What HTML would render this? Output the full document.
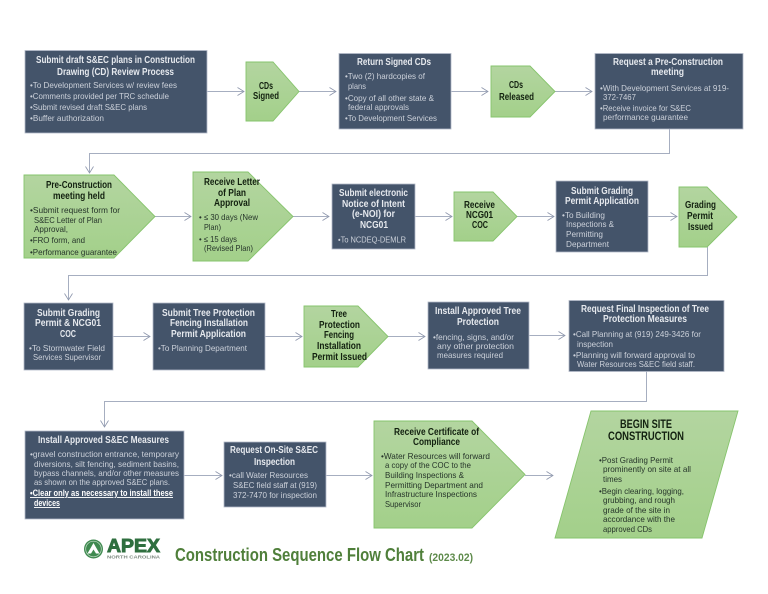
<!DOCTYPE html>
<html><head><meta charset="utf-8"><title>Construction Sequence Flow Chart</title>
<style>
html,body{margin:0;padding:0;background:#fff}
svg{display:block;filter:blur(.35px)}
text{font-family:"Liberation Sans",sans-serif}
.d{fill:#44546a;stroke:#b3bac8;stroke-width:.8}
.g{fill:url(#gr);stroke:#86c46c;stroke-width:.9}
.c{fill:none;stroke:#a6aec0;stroke-width:1}
.a{fill:none;stroke:#8c95ab;stroke-width:.8}
.h{font-weight:bold;font-size:10.2px;fill:#e6e9ee}
.b{font-size:8.3px;fill:#ccd1da}
.k{font-weight:bold;font-size:10.2px;fill:#12200f}
.n{font-size:8.3px;fill:#26352a}
.u{font-weight:bold;font-size:9.2px;fill:#fff;text-decoration:underline}
</style></head><body>
<svg width="768" height="594" viewBox="0 0 768 594" xmlns="http://www.w3.org/2000/svg">
<defs><linearGradient id="gr" x1="0" y1="0" x2="0" y2="1"><stop offset="0" stop-color="#b3d5a0"/><stop offset="1" stop-color="#a3d08a"/></linearGradient></defs>
<rect width="768" height="594" fill="#fff"/>

<!-- connectors -->
<path class="c" d="M207.500 91.500H244M299 91.500H336M451.500 91.500H488M555 91.500H592"/>
<path class="c" d="M669.500 129V153.500H89.500V173"/>
<path class="c" d="M155 216.500H191M293 216.500H329M415.500 216.500H452M517 216.500H554M648 216.500H677"/>
<path class="c" d="M707.500 247V275.500H68.500V300"/>
<path class="c" d="M113.500 336.500H150M265.500 336.500H302M388 336.500H425M529.500 335.500H565"/>
<path class="c" d="M646.500 371V401.500H104.500V427"/>
<path class="c" d="M184.500 475.500H222M326.500 475.500H372M525 475.500H553"/>
<path class="a" d="M237.500 87.500L244 91.500L237.500 95.500M329.500 87.500L336 91.500L329.500 95.500M481.500 87.500L488 91.500L481.500 95.500M585.500 87.500L592 91.500L585.500 95.500"/>
<path class="a" d="M85.500 166.500L89.500 173L93.500 166.500M64.500 293.500L68.500 300L72.500 293.500M100.500 420.500L104.500 427L108.500 420.500"/>
<path class="a" d="M184.500 212.500L191 216.500L184.500 220.500M322.500 212.500L329 216.500L322.500 220.500M445.500 212.500L452 216.500L445.500 220.500M547.500 212.500L554 216.500L547.500 220.500M670.500 212.500L677 216.500L670.500 220.500"/>
<path class="a" d="M143.500 332.500L150 336.500L143.500 340.500M295.500 332.500L302 336.500L295.500 340.500M418.500 332.500L425 336.500L418.500 340.500M558.500 331.500L565 335.500L558.500 339.500"/>
<path class="a" d="M215.500 471.500L222 475.500L215.500 479.500M365.500 471.500L372 475.500L365.500 479.500M546.500 471.500L553 475.500L546.500 479.500"/>

<!-- dark boxes -->
<rect class="d" x="25" y="50.500" width="182" height="82.500"/>
<rect class="d" x="339" y="53.500" width="112" height="75.500"/>
<rect class="d" x="595" y="53.500" width="148" height="75.500"/>
<rect class="d" x="332" y="184" width="83" height="65"/>
<rect class="d" x="556" y="181" width="92" height="71"/>
<rect class="d" x="24" y="303" width="89" height="67"/>
<rect class="d" x="153" y="303" width="112" height="67"/>
<rect class="d" x="428" y="302" width="101" height="67"/>
<rect class="d" x="569" y="300.500" width="155" height="71"/>
<rect class="d" x="25" y="431" width="159" height="88"/>
<rect class="d" x="224" y="442" width="102" height="65"/>

<!-- green shapes -->
<polygon class="g" points="246,62 273,62 299,91.500 273,121 246,121"/>
<polygon class="g" points="491,66 530,66 555,91.500 530,117 491,117"/>
<polygon class="g" points="24,175 114,175 155,216.500 114,258 24,258"/>
<polygon class="g" points="193,172 248,172 293,216.500 248,261 193,261"/>
<polygon class="g" points="454,192 493,192 517,216.500 493,241 454,241"/>
<polygon class="g" points="679,187 707,187 737,217 707,247 679,247"/>
<polygon class="g" points="304,306 358,306 388,336.500 358,367 304,367"/>
<polygon class="g" points="374,421 472,421 525,474.500 472,528 374,528"/>
<polygon class="g" points="591,411 738,411 702,538 555,538"/>

<!-- Box 1 -->
<text class="h" x="36" y="63" textLength="159" lengthAdjust="spacingAndGlyphs">Submit draft S&amp;EC plans in Construction</text>
<text class="h" x="57" y="75" textLength="117" lengthAdjust="spacingAndGlyphs">Drawing (CD) Review Process</text>
<text class="b" x="30" y="88" textLength="147" lengthAdjust="spacingAndGlyphs">•To Development Services w/ review fees</text>
<text class="b" x="30" y="99" textLength="139" lengthAdjust="spacingAndGlyphs">•Comments provided per TRC schedule</text>
<text class="b" x="30" y="110" textLength="117" lengthAdjust="spacingAndGlyphs">•Submit revised draft S&amp;EC plans</text>
<text class="b" x="30" y="121" textLength="74" lengthAdjust="spacingAndGlyphs">•Buffer authorization</text>

<text class="k" x="259" y="89" textLength="14" lengthAdjust="spacingAndGlyphs">CDs</text>
<text class="k" x="253" y="99" textLength="26" lengthAdjust="spacingAndGlyphs">Signed</text>

<!-- Box 2 -->
<text class="h" x="357" y="65" textLength="74" lengthAdjust="spacingAndGlyphs">Return Signed CDs</text>
<text class="b" x="345" y="79" textLength="80" lengthAdjust="spacingAndGlyphs">•Two (2) hardcopies of</text>
<text class="b" x="348" y="89" textLength="18" lengthAdjust="spacingAndGlyphs">plans</text>
<text class="b" x="345" y="101" textLength="89" lengthAdjust="spacingAndGlyphs">•Copy of all other state &amp;</text>
<text class="b" x="348" y="110" textLength="61" lengthAdjust="spacingAndGlyphs">federal approvals</text>
<text class="b" x="345" y="121" textLength="92" lengthAdjust="spacingAndGlyphs">•To Development Services</text>

<text class="k" x="509" y="88" textLength="14" lengthAdjust="spacingAndGlyphs">CDs</text>
<text class="k" x="499" y="100" textLength="35" lengthAdjust="spacingAndGlyphs">Released</text>

<!-- Box 3 -->
<text class="h" x="613" y="65" textLength="110" lengthAdjust="spacingAndGlyphs">Request a Pre-Construction</text>
<text class="h" x="651" y="75" textLength="33" lengthAdjust="spacingAndGlyphs">meeting</text>
<text class="b" x="600" y="91" textLength="129" lengthAdjust="spacingAndGlyphs">•With Development Services at 919-</text>
<text class="b" x="603" y="100" textLength="33" lengthAdjust="spacingAndGlyphs">372-7467</text>
<text class="b" x="600" y="111" textLength="91" lengthAdjust="spacingAndGlyphs">•Receive invoice for S&amp;EC</text>
<text class="b" x="603" y="120" textLength="85" lengthAdjust="spacingAndGlyphs">performance guarantee</text>

<!-- Pre-con -->
<text class="k" x="46" y="188" textLength="66" lengthAdjust="spacingAndGlyphs">Pre-Construction</text>
<text class="k" x="53" y="199" textLength="52" lengthAdjust="spacingAndGlyphs">meeting held</text>
<text class="n" x="30" y="213" textLength="90" lengthAdjust="spacingAndGlyphs">•Submit request form for</text>
<text class="n" x="34" y="223" textLength="68" lengthAdjust="spacingAndGlyphs">S&amp;EC Letter of Plan</text>
<text class="n" x="34" y="232" textLength="34" lengthAdjust="spacingAndGlyphs">Approval,</text>
<text class="n" x="30" y="243" textLength="55" lengthAdjust="spacingAndGlyphs">•FRO form, and</text>
<text class="n" x="30" y="255" textLength="87" lengthAdjust="spacingAndGlyphs">•Performance guarantee</text>

<!-- Letter -->
<text class="k" x="204" y="185" textLength="56" lengthAdjust="spacingAndGlyphs">Receive Letter</text>
<text class="k" x="218" y="196" textLength="28" lengthAdjust="spacingAndGlyphs">of Plan</text>
<text class="k" x="214" y="206" textLength="36" lengthAdjust="spacingAndGlyphs">Approval</text>
<text class="n" x="199" y="220" textLength="59" lengthAdjust="spacingAndGlyphs">• ≤ 30 days (New</text>
<text class="n" x="204" y="230" textLength="17" lengthAdjust="spacingAndGlyphs">Plan)</text>
<text class="n" x="199" y="242" textLength="38" lengthAdjust="spacingAndGlyphs">• ≤ 15 days</text>
<text class="n" x="204" y="251" textLength="49" lengthAdjust="spacingAndGlyphs">(Revised Plan)</text>

<!-- eNOI -->
<text class="h" x="339" y="196" textLength="69" lengthAdjust="spacingAndGlyphs">Submit electronic</text>
<text class="h" x="342" y="207" textLength="63" lengthAdjust="spacingAndGlyphs">Notice of Intent</text>
<text class="h" x="352" y="217" textLength="43" lengthAdjust="spacingAndGlyphs">(e-NOI) for</text>
<text class="h" x="360" y="228" textLength="28" lengthAdjust="spacingAndGlyphs">NCG01</text>
<text class="b" x="338" y="242.500" textLength="68" lengthAdjust="spacingAndGlyphs">•To NCDEQ-DEMLR</text>

<text class="k" x="464" y="208" textLength="31" lengthAdjust="spacingAndGlyphs">Receive</text>
<text class="k" x="466" y="218" textLength="27" lengthAdjust="spacingAndGlyphs">NCG01</text>
<text class="k" x="472" y="228" textLength="16" lengthAdjust="spacingAndGlyphs">COC</text>

<!-- Grading app -->
<text class="h" x="571" y="194" textLength="62" lengthAdjust="spacingAndGlyphs">Submit Grading</text>
<text class="h" x="565" y="204" textLength="74" lengthAdjust="spacingAndGlyphs">Permit Application</text>
<text class="b" x="562" y="218" textLength="43" lengthAdjust="spacingAndGlyphs">•To Building</text>
<text class="b" x="566" y="227" textLength="48" lengthAdjust="spacingAndGlyphs">Inspections &amp;</text>
<text class="b" x="566" y="237" textLength="37" lengthAdjust="spacingAndGlyphs">Permitting</text>
<text class="b" x="566" y="247" textLength="43" lengthAdjust="spacingAndGlyphs">Department</text>

<text class="k" x="685" y="208" textLength="31" lengthAdjust="spacingAndGlyphs">Grading</text>
<text class="k" x="687" y="219" textLength="26" lengthAdjust="spacingAndGlyphs">Permit</text>
<text class="k" x="688" y="230" textLength="25" lengthAdjust="spacingAndGlyphs">Issued</text>

<!-- Row 3 -->
<text class="h" x="37" y="316" textLength="63" lengthAdjust="spacingAndGlyphs">Submit Grading</text>
<text class="h" x="35" y="326" textLength="66" lengthAdjust="spacingAndGlyphs">Permit &amp; NCG01</text>
<text class="h" x="60" y="337" textLength="16" lengthAdjust="spacingAndGlyphs">COC</text>
<text class="b" x="29" y="351" textLength="76" lengthAdjust="spacingAndGlyphs">•To Stormwater Field</text>
<text class="b" x="33" y="360" textLength="68" lengthAdjust="spacingAndGlyphs">Services Supervisor</text>

<text class="h" x="162" y="316" textLength="93" lengthAdjust="spacingAndGlyphs">Submit Tree Protection</text>
<text class="h" x="170" y="326" textLength="78" lengthAdjust="spacingAndGlyphs">Fencing Installation</text>
<text class="h" x="171" y="337" textLength="75" lengthAdjust="spacingAndGlyphs">Permit Application</text>
<text class="b" x="158" y="351" textLength="89" lengthAdjust="spacingAndGlyphs">•To Planning Department</text>

<text class="k" x="331" y="317" textLength="16" lengthAdjust="spacingAndGlyphs">Tree</text>
<text class="k" x="319" y="328" textLength="41" lengthAdjust="spacingAndGlyphs">Protection</text>
<text class="k" x="324" y="338" textLength="30" lengthAdjust="spacingAndGlyphs">Fencing</text>
<text class="k" x="317" y="349" textLength="44" lengthAdjust="spacingAndGlyphs">Installation</text>
<text class="k" x="312" y="360" textLength="55" lengthAdjust="spacingAndGlyphs">Permit Issued</text>

<text class="h" x="435" y="314" textLength="86" lengthAdjust="spacingAndGlyphs">Install Approved Tree</text>
<text class="h" x="457" y="325" textLength="42" lengthAdjust="spacingAndGlyphs">Protection</text>
<text class="b" x="433" y="340" textLength="81" lengthAdjust="spacingAndGlyphs">•fencing, signs, and/or</text>
<text class="b" x="437" y="349" textLength="77" lengthAdjust="spacingAndGlyphs">any other protection</text>
<text class="b" x="437" y="358" textLength="66" lengthAdjust="spacingAndGlyphs">measures required</text>

<text class="h" x="581" y="312" textLength="128" lengthAdjust="spacingAndGlyphs">Request Final Inspection of Tree</text>
<text class="h" x="603" y="322" textLength="84" lengthAdjust="spacingAndGlyphs">Protection Measures</text>
<text class="b" x="573" y="337" textLength="128" lengthAdjust="spacingAndGlyphs">•Call Planning at (919) 249-3426 for</text>
<text class="b" x="577" y="347" textLength="36" lengthAdjust="spacingAndGlyphs">inspection</text>
<text class="b" x="573" y="358" textLength="122" lengthAdjust="spacingAndGlyphs">•Planning will forward approval to</text>
<text class="b" x="577" y="367" textLength="118" lengthAdjust="spacingAndGlyphs">Water Resources S&amp;EC field staff.</text>

<!-- Row 4 -->
<text class="h" x="38" y="443" textLength="131" lengthAdjust="spacingAndGlyphs">Install Approved S&amp;EC Measures</text>
<text class="b" x="30" y="457" textLength="149" lengthAdjust="spacingAndGlyphs">•gravel construction entrance, temporary</text>
<text class="b" x="34" y="467" textLength="145" lengthAdjust="spacingAndGlyphs">diversions, silt fencing, sediment basins,</text>
<text class="b" x="34" y="476" textLength="145" lengthAdjust="spacingAndGlyphs">bypass channels, and/or other measures</text>
<text class="b" x="34" y="485" textLength="136" lengthAdjust="spacingAndGlyphs">as shown on the approved S&amp;EC plans.</text>
<text class="u" x="30" y="496" textLength="143" lengthAdjust="spacingAndGlyphs">•Clear only as necessary to install these</text>
<text class="u" x="34" y="506" textLength="26" lengthAdjust="spacingAndGlyphs">devices</text>

<text class="h" x="230" y="453" textLength="88" lengthAdjust="spacingAndGlyphs">Request On-Site S&amp;EC</text>
<text class="h" x="254" y="465" textLength="41" lengthAdjust="spacingAndGlyphs">Inspection</text>
<text class="b" x="229" y="478" textLength="79" lengthAdjust="spacingAndGlyphs">•call Water Resources</text>
<text class="b" x="233" y="488" textLength="84" lengthAdjust="spacingAndGlyphs">S&amp;EC field staff at (919)</text>
<text class="b" x="233" y="498" textLength="84" lengthAdjust="spacingAndGlyphs">372-7470 for inspection</text>

<text class="k" x="394" y="435" textLength="85" lengthAdjust="spacingAndGlyphs">Receive Certificate of</text>
<text class="k" x="413" y="445" textLength="47" lengthAdjust="spacingAndGlyphs">Compliance</text>
<text class="n" x="381" y="459" textLength="109" lengthAdjust="spacingAndGlyphs">•Water Resources will forward</text>
<text class="n" x="385" y="468" textLength="86" lengthAdjust="spacingAndGlyphs">a copy of the COC to the</text>
<text class="n" x="385" y="478" textLength="79" lengthAdjust="spacingAndGlyphs">Building Inspections &amp;</text>
<text class="n" x="385" y="488" textLength="98" lengthAdjust="spacingAndGlyphs">Permitting Department and</text>
<text class="n" x="385" y="497" textLength="92" lengthAdjust="spacingAndGlyphs">Infrastructure Inspections</text>
<text class="n" x="385" y="507" textLength="36" lengthAdjust="spacingAndGlyphs">Supervisor</text>

<text class="k" style="font-size:11.500px" x="620" y="428" textLength="52" lengthAdjust="spacingAndGlyphs">BEGIN SITE</text>
<text class="k" style="font-size:11.500px" x="608" y="440" textLength="76" lengthAdjust="spacingAndGlyphs">CONSTRUCTION</text>
<text class="n" x="599" y="463" textLength="74" lengthAdjust="spacingAndGlyphs">•Post Grading Permit</text>
<text class="n" x="603" y="472" textLength="88" lengthAdjust="spacingAndGlyphs">prominently on site at all</text>
<text class="n" x="603" y="482" textLength="19" lengthAdjust="spacingAndGlyphs">times</text>
<text class="n" x="599" y="494" textLength="85" lengthAdjust="spacingAndGlyphs">•Begin clearing, logging,</text>
<text class="n" x="603" y="503" textLength="72" lengthAdjust="spacingAndGlyphs">grubbing, and rough</text>
<text class="n" x="603" y="513" textLength="67" lengthAdjust="spacingAndGlyphs">grade of the site in</text>
<text class="n" x="603" y="522" textLength="72" lengthAdjust="spacingAndGlyphs">accordance with the</text>
<text class="n" x="603" y="532" textLength="49" lengthAdjust="spacingAndGlyphs">approved CDs</text>

<!-- Footer -->
<circle cx="93.500" cy="549" r="9.500" fill="#3f8a50"/>
<circle cx="93.500" cy="549" r="7.800" fill="none" stroke="#c4dcc8" stroke-width=".7"/>
<polygon points="93.500,543 99.500,553.500 87.500,553.500" fill="#fff"/>
<polygon points="93.500,549.500 96,553.500 91,553.500" fill="#3f8a50"/>
<text x="107" y="552" font-weight="bold" font-size="18" fill="#2f6f3f" stroke="#2f6f3f" stroke-width=".9" textLength="53" lengthAdjust="spacingAndGlyphs">APEX</text>
<text x="107" y="558.500" font-weight="bold" font-size="4.200" fill="#7d8a80" textLength="53" lengthAdjust="spacingAndGlyphs">NORTH CAROLINA</text>
<text x="175" y="561" font-weight="bold" font-size="18" fill="#4f7f3a" textLength="249" lengthAdjust="spacingAndGlyphs">Construction Sequence Flow Chart</text>
<text x="429" y="561" font-weight="bold" font-size="11" fill="#5d8a4a" textLength="44" lengthAdjust="spacingAndGlyphs">(2023.02)</text>
</svg>
</body></html>
